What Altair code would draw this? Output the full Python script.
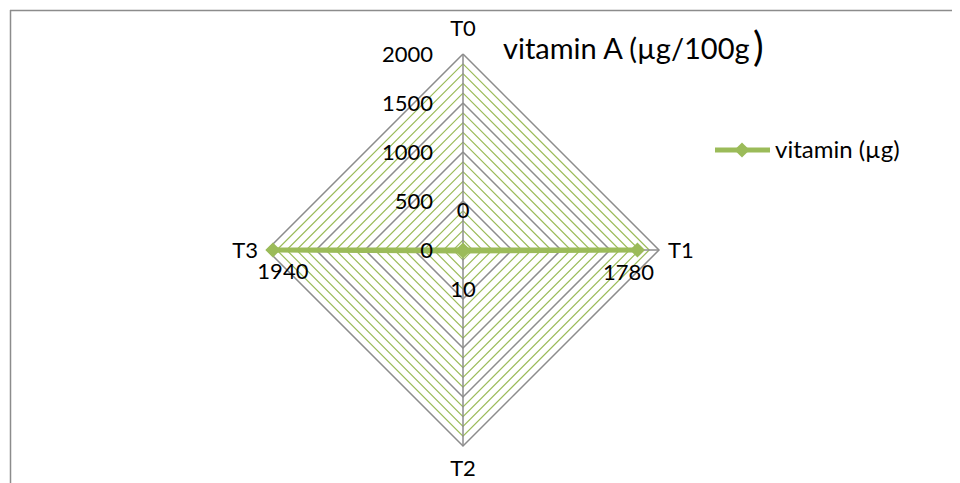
import math
import altair as alt
import pandas as pd

# ---- data ----
categories = ["T0", "T1", "T2", "T3"]
values = [0, 1780, 10, 1940]
axis_ticks = [0, 500, 1000, 1500, 2000]
minor_rings = list(range(100, 2001, 100))
r_max = 2000
series_name = "vitamin (µg)"
title_main = "vitamin A (µg/100g"
title_close = ")"

GREEN = "#9BBB59"
GRAY = "#8C8C8C"
FONT = "Lato"

# ---- layout ----
W, H = 944, 475
k = 196 / 2000.0
cx, cy = 455, 242
xdom = [-cx / k, (W - cx) / k]
ydom = [-(H - cy) / k, cy / k]
xs = alt.Scale(domain=xdom, nice=False, zero=False)
ys = alt.Scale(domain=ydom, nice=False, zero=False)

def ang(i):
    return math.radians(90 - i * 90)

def pos(r, i):
    return round(r * math.cos(ang(i)), 6), round(r * math.sin(ang(i)), 6)

# grid rings
rows = []
for r in minor_rings:
    for j in range(len(categories) + 1):
        x, y = pos(r, j % len(categories))
        rows.append({"ring": r, "o": j, "x": x, "y": y, "major": r % 500 == 0})
grid = pd.DataFrame(rows)

# spokes
sp = []
for i, c in enumerate(categories):
    for o, r in enumerate([0, r_max]):
        x, y = pos(r, i)
        sp.append({"cat": c, "o": o, "x": x, "y": y})
spokes = pd.DataFrame(sp)

# series
srows = []
for j in range(len(categories) + 1):
    i = j % len(categories)
    x, y = pos(values[i], i)
    srows.append({"o": j, "cat": categories[i], "val": values[i], "x": x, "y": y})
series = pd.DataFrame(srows)
pts = series[series.o < len(categories)]

X = lambda: alt.X("x:Q", scale=xs, axis=None)
Y = lambda: alt.Y("y:Q", scale=ys, axis=None)

minor = alt.Chart(grid[~grid.major]).mark_line(color=GREEN, strokeWidth=1.2).encode(
    x=X(), y=Y(), detail="ring:N", order="o:Q")
major = alt.Chart(grid[grid.major]).mark_line(color=GRAY, strokeWidth=1.5).encode(
    x=X(), y=Y(), detail="ring:N", order="o:Q")
spoke = alt.Chart(spokes).mark_line(color=GRAY, strokeWidth=1.5).encode(
    x=X(), y=Y(), detail="cat:N", order="o:Q")

line = alt.Chart(series).mark_line(color=GREEN, strokeWidth=5).encode(
    x=X(), y=Y(), order="o:Q")
marks = alt.Chart(pts).mark_point(shape="diamond", filled=True, color=GREEN, size=230, opacity=1).encode(
    x=X(), y=Y())

# axis tick labels
ticks = pd.DataFrame({"v": axis_ticks, "x": [0] * len(axis_ticks), "y": axis_ticks,
                      "t": [str(v) for v in axis_ticks]})
tick_text = alt.Chart(ticks).mark_text(align="right", baseline="middle", dx=-30, dy=1,
                                       font=FONT, fontSize=22, color="black").encode(
    x=X(), y=Y(), text="t:N")

# category labels
cat_rows = []
for i, c in enumerate(categories):
    x, y = pos(r_max, i)
    cat_rows.append({"cat": c, "x": x, "y": y})
cats = pd.DataFrame(cat_rows)
cat_style = {
    "T0": dict(align="center", dx=0, dy=-25),
    "T1": dict(align="left", dx=9, dy=1),
    "T2": dict(align="center", dx=0, dy=23),
    "T3": dict(align="right", dx=-9, dy=1),
}
cat_layers = [
    alt.Chart(cats).transform_filter(alt.datum.cat == c).mark_text(
        baseline="middle", font=FONT, fontSize=22, color="black", **cat_style[c]).encode(
        x=X(), y=Y(), text="cat:N")
    for c in categories
]

# data labels
lab_style = {
    "T0": dict(dx=0, dy=-39),
    "T1": dict(dx=-9, dy=23),
    "T2": dict(dx=0, dy=39),
    "T3": dict(dx=10, dy=22),
}
lab_layers = [
    alt.Chart(pts).transform_filter(alt.datum.cat == c).mark_text(
        align="center", baseline="middle", font=FONT, fontSize=22, color="black",
        **lab_style[c]).encode(x=X(), y=Y(), text="val:Q")
    for c in categories
]

# legend
leg = pd.DataFrame({"name": [series_name]})
leg_line = alt.Chart(leg).mark_rule(color=GREEN, strokeWidth=5).encode(
    x=alt.value(707), x2=alt.value(762), y=alt.value(142))
leg_pt = alt.Chart(leg).mark_point(shape="diamond", filled=True, color=GREEN, size=230, opacity=1).encode(
    x=alt.value(734), y=alt.value(142))
leg_txt = alt.Chart(leg).mark_text(align="left", baseline="middle", font=FONT, fontSize=24,
                                   color="black").encode(
    x=alt.value(767), y=alt.value(143), text="name:N")

# title
ttl = pd.DataFrame({"a": [title_main], "b": [title_close]})
t1 = alt.Chart(ttl).mark_text(align="left", baseline="middle", font=FONT, fontSize=29,
                              color="black").encode(x=alt.value(495), y=alt.value(42), text="a:N")
t2 = alt.Chart(ttl).mark_text(align="left", baseline="middle", font=FONT, fontSize=40,
                              color="black").encode(x=alt.value(745), y=alt.value(41), text="b:N")

# border (top and left edges of the chart frame)
frame = pd.DataFrame({"d": [0]})
top_b = alt.Chart(frame).mark_rule(color=GRAY, strokeWidth=1.5).encode(
    x=alt.value(2), x2=alt.value(W), y=alt.value(2.5))
left_b = alt.Chart(frame).mark_rule(color=GRAY, strokeWidth=1.5).encode(
    x=alt.value(2.5), y=alt.value(2), y2=alt.value(H))

chart = alt.layer(
    top_b, left_b, minor, major, spoke, line, marks, tick_text,
    *cat_layers, *lab_layers, leg_line, leg_pt, leg_txt, t1, t2
).properties(
    width=W, height=H, padding=0,
    autosize=alt.AutoSizeParams(type="none")
).configure_view(stroke=None)

chart.save("out.html", embed_options={"renderer": "svg", "actions": False})
